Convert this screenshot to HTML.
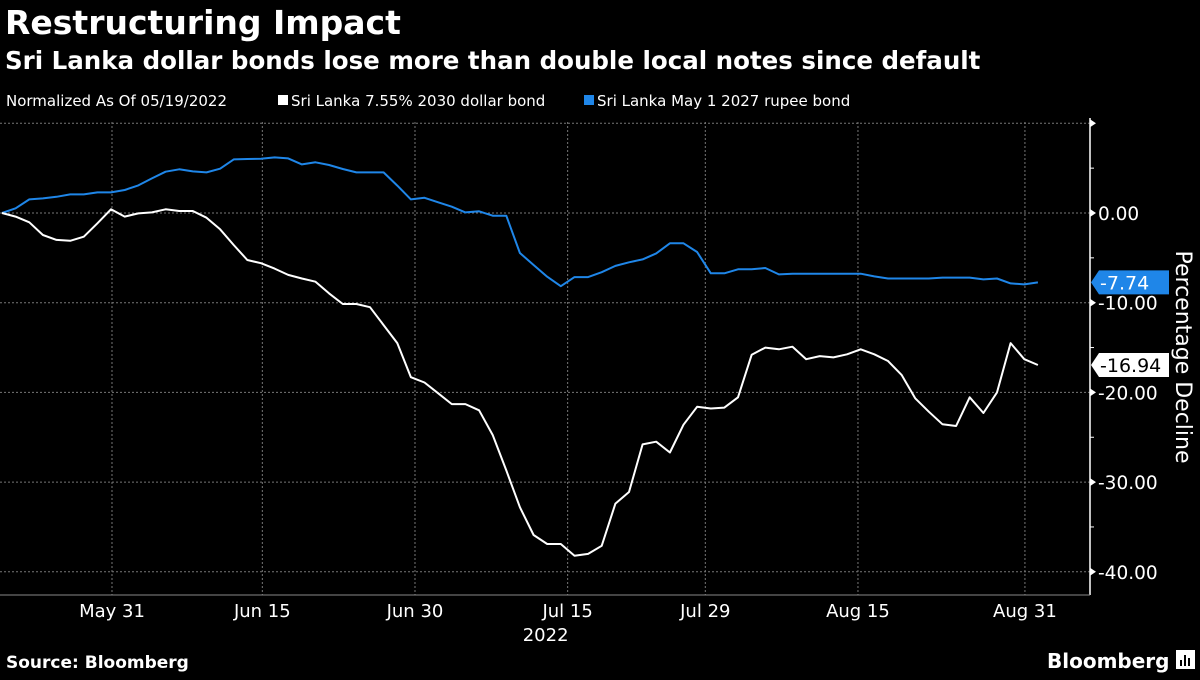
<!DOCTYPE html>
<html><head><meta charset="utf-8">
<style>
body{margin:0;background:#000;width:1200px;height:675px;overflow:hidden;font-family:"Liberation Sans","DejaVu Sans",sans-serif;color:#fff}
svg text{font-family:"DejaVu Sans","Liberation Sans",sans-serif}
</style></head><body>
<svg id="c" width="1200" height="675" xmlns="http://www.w3.org/2000/svg">
<text x="5" y="34" font-size="33" font-weight="bold" fill="#fff">Restructuring Impact</text>
<text x="5" y="69" font-size="24.5" font-weight="bold" fill="#fff">Sri Lanka dollar bonds lose more than double local notes since default</text>
<g font-size="15" fill="#fff">
<text x="6" y="106">Normalized As Of 05/19/2022</text>
<rect x="278" y="95" width="10" height="10" fill="#fff"/>
<text x="291" y="106">Sri Lanka 7.55% 2030 dollar bond</text>
<rect x="584" y="95" width="10" height="10" fill="#1f86e8"/>
<text x="597" y="106">Sri Lanka May 1 2027 rupee bond</text>
</g>
<g id="grid"></g><g id="axes"></g><g id="series"></g><g id="tags"></g>
<text transform="translate(1176,357) rotate(90)" text-anchor="middle" font-size="22" fill="#fff">Percentage Decline</text>
<text x="6" y="668" font-size="17" font-weight="bold" fill="#fff">Source: Bloomberg</text>
<text x="1047" y="668" font-size="20" font-weight="bold" fill="#fff">Bloomberg</text>
<g><rect x="1176" y="650" width="19" height="19" fill="#fff"/><rect x="1180" y="660" width="2" height="6" fill="#000"/><rect x="1184" y="655" width="2" height="11" fill="#000"/><rect x="1188" y="658" width="2" height="8" fill="#000"/></g>
</svg>
<script>
const dollarBond=[0,-0.4,-1.04,-2.45,-3.0,-3.1,-2.64,-1.15,0.41,-0.4,-0.04,0.07,0.41,0.22,0.22,-0.52,-1.82,-3.57,-5.24,-5.6,-6.2,-6.9,-7.3,-7.66,-8.96,-10.15,-10.15,-10.5,-12.5,-14.5,-18.3,-18.9,-20.1,-21.3,-21.3,-22,-24.75,-28.7,-32.8,-35.9,-36.9,-36.9,-38.2,-38,-37.1,-32.4,-31.1,-25.8,-25.5,-26.7,-23.6,-21.6,-21.8,-21.7,-20.55,-15.8,-15,-15.2,-14.9,-16.3,-15.95,-16.1,-15.75,-15.2,-15.75,-16.5,-18.05,-20.66,-22.15,-23.56,-23.75,-20.55,-22.3,-20,-14.5,-16.3,-16.94];
const rupeeBond=[0,0.52,1.52,1.63,1.81,2.07,2.07,2.3,2.3,2.56,3.08,3.86,4.6,4.87,4.64,4.53,4.94,5.98,6.02,6.05,6.2,6.09,5.42,5.65,5.35,4.9,4.53,4.53,4.53,3.05,1.52,1.7,1.19,0.7,0.07,0.19,-0.3,-0.3,-4.46,-5.8,-7.1,-8.16,-7.15,-7.15,-6.6,-5.9,-5.5,-5.17,-4.5,-3.38,-3.38,-4.35,-6.72,-6.72,-6.28,-6.28,-6.13,-6.84,-6.77,-6.77,-6.77,-6.77,-6.77,-6.77,-7.07,-7.3,-7.3,-7.3,-7.3,-7.2,-7.2,-7.2,-7.4,-7.3,-7.85,-7.96,-7.74];
const xTickLabels=["May 31","Jun 15","Jun 30","Jul 15","Jul 29","Aug 15","Aug 31"];
const xTickIndex=[8.07,19.1,30.3,41.5,51.6,62.8,75.05];
const yTicks=[10,0,-10,-20,-30,-40];
const yTickLabels=["","0.00","-10.00","-20.00","-30.00","-40.00"];
const NS="http://www.w3.org/2000/svg";
const X0=2,DX=13.63,PL=0,PR=1090,PT=122,PB=595;
const xs=i=>X0+i*DX;
const ys=v=>213-v*8.97;
function mk(t,a,p){const e=document.createElementNS(NS,t);for(const k in a)e.setAttribute(k,a[k]);p.appendChild(e);return e;}
const grid=document.getElementById('grid'),axes=document.getElementById('axes'),ser=document.getElementById('series'),tags=document.getElementById('tags');
yTicks.forEach((v,k)=>{
 const l=mk('line',{x1:PL,x2:PR,y1:ys(v),y2:ys(v),stroke:'#777','stroke-width':1,'stroke-dasharray':'2,2'},grid);
 
 
 const m=mk('path',{d:`M${PR},${ys(v)-4}L${PR+6},${ys(v)}L${PR},${ys(v)+4}Z`,fill:'#fff'},axes);
 
 
 if(yTickLabels[k]){const t=mk('text',{x:PR+8,y:ys(v)+7,'font-size':18.5,fill:'#fff'},axes);t.textContent=yTickLabels[k];
 
 }
});
[5,-5,-15,-25,-35].forEach(v=>{const m=mk('line',{x1:PR,x2:PR+4,y1:ys(v),y2:ys(v),stroke:'#fff'},axes);
 
 });
xTickIndex.forEach((ix,k)=>{
 const l=mk('line',{x1:xs(ix),x2:xs(ix),y1:PT,y2:PB,stroke:'#777','stroke-width':1,'stroke-dasharray':'2,2'},grid);
 
 
 const t=mk('text',{x:xs(ix),y:617,'font-size':18,fill:'#fff','text-anchor':'middle'},axes);t.textContent=xTickLabels[k];
 
 
});
const yr=mk('text',{x:xs(41.5)-22,y:641,'font-size':18,fill:'#fff','text-anchor':'middle'},axes);yr.textContent='2022';


const ya=mk('line',{x1:PR,x2:PR,y1:PT-4,y2:PB,stroke:'#fff','stroke-width':1.5},axes);


const xa=mk('line',{x1:0,x2:PR,y1:PB,y2:PB,stroke:'#888','stroke-width':1},axes);


function line(arr,color,name){
 const d=arr.map((v,i)=>(i?'L':'M')+xs(i).toFixed(1)+','+ys(v).toFixed(1)).join('');
 const p=mk('path',{d,fill:'none',stroke:color,'stroke-width':2,'stroke-linejoin':'round'},ser);
 
 
}
line(rupeeBond,'#1f86e8','rupee-bond-line');
line(dollarBond,'#ffffff','dollar-bond-line');
function tag(v,bg,fg,name){
 const y=ys(v);
 const g=mk('g',{},tags);
 
 
 mk('path',{d:`M1091,${y}L1099,${y-12}L1169,${y-12}L1169,${y+12}L1099,${y+12}Z`,fill:bg},g);
 const t=mk('text',{x:1100,y:y+7,'font-size':19,fill:fg},g);t.textContent=v.toFixed(2);
}
tag(rupeeBond[rupeeBond.length-1],'#1f86e8','#fff','rupee-value-tag');
tag(dollarBond[dollarBond.length-1],'#fff','#000','dollar-value-tag');
</script>
</body></html>
